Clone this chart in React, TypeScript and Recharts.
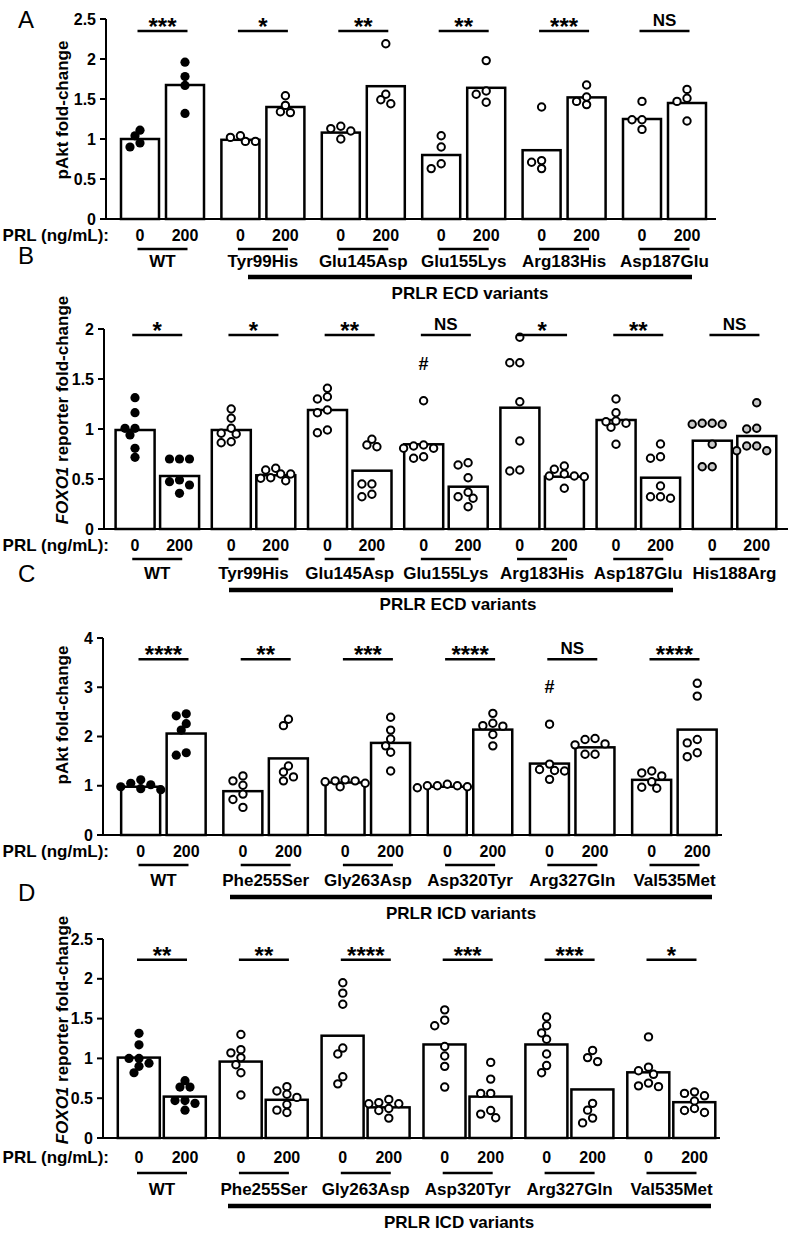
import React from 'react';
import { ComposedChart, Bar, Scatter, XAxis, YAxis } from 'recharts';

const FONT = '"Liberation Sans", Arial, Helvetica, sans-serif';

// ---------- Panel A : pAkt, PRLR ECD variants ----------
const groupsA = ['WT', 'Tyr99His', 'Glu145Asp', 'Glu155Lys', 'Arg183His', 'Asp187Glu'];
const barsA0 = [1.0, 0.99, 1.08, 0.8, 0.86, 1.25];
const barsA200 = [1.675, 1.4, 1.66, 1.64, 1.52, 1.45];
const dotsA0 = [
  [1.04, 1.11, 0.95, 0.9],
  [1.02, 0.97, 0.97, 1.04],
  [1.13, 1.0, 1.1, 1.16],
  [1.04, 0.9, 0.63, 0.69],
  [1.4, 0.73, 0.63, 0.71],
  [1.47, 1.24, 1.24, 1.12],
];
const dotsA200 = [
  [1.96, 1.78, 1.67, 1.32],
  [1.54, 1.42, 1.33, 1.34],
  [2.19, 1.56, 1.44, 1.49],
  [1.98, 1.6, 1.46, 1.56],
  [1.675, 1.525, 1.43, 1.47],
  [1.62, 1.51, 1.47, 1.225],
];
const sigA = ['***', '*', '**', '**', '***', 'NS'];
const yTicksA = [0, 0.5, 1, 1.5, 2, 2.5];

// ---------- Panel B : FOXO1 reporter, PRLR ECD variants ----------
const groupsB = ['WT', 'Tyr99His', 'Glu145Asp', 'Glu155Lys', 'Arg183His', 'Asp187Glu', 'His188Arg'];
const barsB0 = [0.99, 0.99, 1.19, 0.847, 1.213, 1.09, 0.883];
const barsB200 = [0.53, 0.537, 0.583, 0.423, 0.523, 0.513, 0.93];
const dotsB0 = [
  [1.313, 1.163, 1.007, 1.007, 0.94, 0.807, 0.717],
  [1.2, 1.107, 1.007, 0.95, 0.957, 0.863, 0.873],
  [1.407, 1.3, 1.323, 1.19, 1.163, 0.963, 0.99],
  [1.283, 0.807, 0.84, 0.83, 0.807, 0.707, 0.723],
  [1.917, 1.663, 1.663, 1.273, 0.88, 0.58, 0.59],
  [1.3, 1.163, 1.08, 1.057, 1.017, 1.073, 0.847],
  [1.057, 1.047, 1.047, 1.057, 0.847, 0.623, 0.623],
];
const dotsB200 = [
  [0.7, 0.7, 0.7, 0.473, 0.44, 0.49, 0.357],
  [0.607, 0.55, 0.513, 0.483, 0.507, 0.55, 0.59],
  [0.897, 0.823, 0.84, 0.45, 0.45, 0.323, 0.347],
  [0.663, 0.64, 0.513, 0.323, 0.367, 0.307, 0.223],
  [0.597, 0.63, 0.523, 0.53, 0.53, 0.407, 0.55],
  [0.85, 0.707, 0.723, 0.43, 0.323, 0.307, 0.323],
  [1.263, 1.0, 1.007, 0.83, 0.783, 0.783, 0.83],
];
const sigB = ['*', '*', '**', 'NS', '*', '**', 'NS'];
const hashB = [{ group: 3, value: 1.65 }];
const yTicksB = [0, 0.5, 1, 1.5, 2];

// ---------- Panel C : pAkt, PRLR ICD variants ----------
const groupsC = ['WT', 'Phe255Ser', 'Gly263Asp', 'Asp320Tyr', 'Arg327Gln', 'Val535Met'];
const barsC0 = [0.98, 0.89, 1.066, 0.98, 1.45, 1.12];
const barsC200 = [2.06, 1.555, 1.87, 2.14, 1.78, 2.14];
const dotsC0 = [
  [1.02, 1.05, 0.94, 0.92, 1.12, 0.98],
  [1.1, 1.01, 1.2, 0.83, 0.72, 0.56],
  [1.1, 0.98, 1.12, 1.1, 1.05, 1.08],
  [1.0, 0.96, 1.0, 1.03, 1.0, 0.98],
  [2.25, 1.44, 1.31, 1.3, 1.33, 1.13],
  [1.26, 1.3, 1.2, 1.08, 0.95, 0.97],
];
const dotsC200 = [
  [2.42, 2.46, 2.26, 2.13, 1.62, 1.67],
  [2.22, 2.35, 1.28, 1.4, 1.18, 1.1],
  [2.39, 2.13, 1.95, 1.81, 1.68, 1.3],
  [2.47, 2.22, 2.21, 2.27, 2.04, 1.81],
  [1.96, 1.94, 1.83, 1.85, 1.64, 1.64],
  [3.08, 2.82, 1.94, 1.87, 1.67, 1.59],
];
const sigC = ['****', '**', '***', '****', 'NS', '****'];
const hashC = [{ group: 4, value: 3.0 }];
const yTicksC = [0, 1, 2, 3, 4];

// ---------- Panel D : FOXO1 reporter, PRLR ICD variants ----------
const groupsD = ['WT', 'Phe255Ser', 'Gly263Asp', 'Asp320Tyr', 'Arg327Gln', 'Val535Met'];
const barsD0 = [1.01, 0.96, 1.285, 1.175, 1.175, 0.825];
const barsD200 = [0.52, 0.48, 0.385, 0.52, 0.61, 0.45];
const dotsD0 = [
  [1.315, 1.17, 0.94, 1.0, 1.0, 0.9, 0.82],
  [1.3, 1.11, 1.01, 1.07, 0.92, 0.82, 0.54],
  [1.95, 1.82, 1.68, 1.13, 1.055, 0.77, 0.68],
  [1.61, 1.48, 1.41, 1.15, 1.03, 0.9, 0.64],
  [1.52, 1.41, 1.32, 1.24, 1.055, 0.91, 0.82],
  [1.27, 0.845, 0.8, 0.89, 0.69, 0.645, 0.655],
];
const dotsD200 = [
  [0.64, 0.64, 0.72, 0.47, 0.435, 0.47, 0.35],
  [0.645, 0.55, 0.51, 0.59, 0.42, 0.35, 0.32],
  [0.485, 0.37, 0.43, 0.43, 0.445, 0.345, 0.25],
  [0.95, 0.74, 0.56, 0.56, 0.345, 0.255, 0.3],
  [1.1, 0.96, 1.01, 0.435, 0.35, 0.25, 0.19],
  [0.56, 0.53, 0.58, 0.465, 0.37, 0.32, 0.345],
];
const sigD = ['**', '**', '****', '***', '***', '*'];
const yTicksD = [0, 0.5, 1, 1.5, 2, 2.5];

// layout of each panel (pixels)
const panels = [
  {
    letter: 'A', top: 0, height: 310, plotTop: 19, plotBottom: 219, plotLeft: 106, plotRight: 716,
    center0: 162.5, period: 100.4, half: 22.5, barW: 38, yMax: 2.5, yTicks: yTicksA,
    groups: groupsA, bars0: barsA0, bars200: barsA200, dots0: dotsA0, dots200: dotsA200,
    sig: sigA, sigY: 2.35, hash: [], italic: false, letterY: 28, labelCY: 110,
    offs: [16, 30, 42, 58, 74], thick: [248, 692], capX: 470, caption: 'PRLR ECD variants',
  },
  {
    letter: 'B', top: 230, height: 400, plotTop: 99, plotBottom: 299, plotLeft: 104, plotRight: 788,
    center0: 157.25, period: 96.2, half: 22.25, barW: 39, yMax: 2, yTicks: yTicksB,
    groups: groupsB, bars0: barsB0, bars200: barsB200, dots0: dotsB0, dots200: dotsB200,
    sig: sigB, sigY: 1.94, hash: hashB, italic: true, letterY: 34, labelCY: 180,
    offs: [16, 30, 44, 61, 75], thick: [229, 673], capX: 458, caption: 'PRLR ECD variants',
  },
  {
    letter: 'C', top: 550, height: 380, plotTop: 88, plotBottom: 285, plotLeft: 103, plotRight: 722,
    center0: 163.5, period: 102.2, half: 22.75, barW: 39, yMax: 4, yTicks: yTicksC,
    groups: groupsC, bars0: barsC0, bars200: barsC200, dots0: dotsC0, dots200: dotsC200,
    sig: sigC, sigY: 3.57, hash: hashC, italic: false, letterY: 32, labelCY: 165,
    offs: [16, 30, 45, 62, 78], thick: [230, 712], capX: 461, caption: 'PRLR ICD variants',
  },
  {
    letter: 'D', top: 870, height: 364, plotTop: 69, plotBottom: 268, plotLeft: 103, plotRight: 720,
    center0: 162, period: 101.9, half: 23, barW: 42, yMax: 2.5, yTicks: yTicksD,
    groups: groupsD, bars0: barsD0, bars200: barsD200, dots0: dotsD0, dots200: dotsD200,
    sig: sigD, sigY: 2.24, hash: [], italic: true, letterY: 31, labelCY: 160,
    offs: [19, 35, 51, 68, 84], thick: [228, 711], capX: 459, caption: 'PRLR ICD variants',
  },
];

// simple beeswarm: spread points sideways (in px) when they overlap
const swarm = (vals: number[], pxPerUnit: number) => {
  const order = vals.map((_, i) => i).sort((a, b) => vals[b] - vals[a]);
  const placed: { x: number; y: number }[] = [];
  const dx = vals.map(() => 0);
  const step = 5;
  const minD = 7.5;
  order.forEach((i) => {
    const y = vals[i] * pxPerUnit;
    for (let k = 0; k < 30; k++) {
      const off = k === 0 ? 0 : (k % 2 ? -1 : 1) * Math.ceil(k / 2) * step;
      if (placed.every((p) => Math.hypot(p.x - off, p.y - y) >= minD)) {
        dx[i] = off;
        placed.push({ x: off, y });
        break;
      }
    }
  });
  return dx;
};

const dotShape = (p: any) => {
  const d = p.payload;
  if (d.filled) return <circle cx={p.cx + d.dx} cy={p.cy} r={4.6} fill="#000" />;
  return <circle cx={p.cx + d.dx} cy={p.cy} r={3.7} fill={d.fill} stroke="#000" strokeWidth={2} />;
};

const sigShape = (p: any) => {
  const ns = p.payload.label === 'NS';
  return (
    <g>
      <line x1={p.cx - 25} x2={p.cx + 25} y1={p.cy} y2={p.cy} stroke="#000" strokeWidth={2.6} />
      <text x={p.cx} y={ns ? p.cy - 5 : p.cy + 4} textAnchor="middle" fontFamily={FONT}
        fontWeight="bold" fontSize={ns ? 17 : 24} fill="#000">
        {p.payload.label}
      </text>
    </g>
  );
};

const hashShape = (p: any) => (
  <text x={p.cx} y={p.cy} textAnchor="middle" dominantBaseline="central" fontFamily={FONT}
    fontWeight="bold" fontSize={18} fill="#000">#</text>
);

const PanelChart = ({ cfg }: { cfg: any }) => {
  const pxPerUnit = (cfg.plotBottom - cfg.plotTop) / cfg.yMax;
  const off = cfg.half / cfg.period;
  const d0 = -(cfg.center0 - cfg.plotLeft) / cfg.period;
  const d1 = (cfg.plotRight - cfg.center0) / cfg.period;

  const bars = cfg.groups.flatMap((_: string, i: number) => [
    { x: i - off, v: cfg.bars0[i] },
    { x: i + off, v: cfg.bars200[i] },
  ]);

  const dots: any[] = [];
  cfg.groups.forEach((g: string, i: number) => {
    [cfg.dots0[i], cfg.dots200[i]].forEach((vals: number[], c: number) => {
      const dx = swarm(vals, pxPerUnit);
      const fill = g === 'His188Arg' ? '#c8c8c8' : '#fff';
      vals.forEach((v, k) => {
        dots.push({ x: i + (c ? off : -off), y: v, dx: dx[k], fill, filled: g === 'WT' });
      });
    });
  });

  const sig = cfg.sig.map((s: string, i: number) => ({ x: i, y: cfg.sigY, label: s }));
  const hash = cfg.hash.map((h: any) => ({ x: h.group - off, y: h.value }));

  const [oNum, oLine, oName, oThick, oCap] = cfg.offs;

  // bar drawn with the panel's own width, centred where Recharts puts the bar
  const barShape = (p: any) => {
    const cx = p.x + p.width / 2;
    return (
      <rect x={cx - cfg.barW / 2} y={p.y} width={cfg.barW} height={p.height}
        fill="#fff" stroke="#000" strokeWidth={2.5} />
    );
  };

  const renderTick = (p: any) => {
    const i = Math.round(p.payload.value);
    const x = p.x;
    const y = p.y;
    return (
      <g fontFamily={FONT} fontWeight="bold" fill="#000">
        {i === 0 && (
          <text x={109} y={y + oNum} textAnchor="end" dominantBaseline="central" fontSize={17}>
            PRL (ng/mL):
          </text>
        )}
        <text x={x - cfg.half} y={y + oNum} textAnchor="middle" dominantBaseline="central" fontSize={16}>0</text>
        <text x={x + cfg.half} y={y + oNum} textAnchor="middle" dominantBaseline="central" fontSize={16}>200</text>
        <line x1={x - 25} x2={x + 25} y1={y + oLine} y2={y + oLine} stroke="#000" strokeWidth={2.6} />
        <text x={x} y={y + oName} textAnchor="middle" dominantBaseline="central" fontSize={17}>
          {cfg.groups[i]}
        </text>
        {i === 1 && (
          <g>
            <line x1={cfg.thick[0]} x2={cfg.thick[1]} y1={y + oThick} y2={y + oThick} stroke="#000" strokeWidth={4.5} />
            <text x={cfg.capX} y={y + oCap} textAnchor="middle" dominantBaseline="central" fontSize={17}>
              {cfg.caption}
            </text>
          </g>
        )}
      </g>
    );
  };

  const renderTitle = () => (
    <g fontFamily={FONT} fill="#000">
      <text x={18} y={cfg.letterY} fontSize={24}>{cfg.letter}</text>
      <text transform={`translate(68, ${cfg.labelCY}) rotate(-90)`} textAnchor="middle" fontSize={17} fontWeight="bold">
        {cfg.italic ? (
          <>
            <tspan fontStyle="italic">FOXO1</tspan>
            <tspan> reporter fold-change</tspan>
          </>
        ) : (
          'pAkt fold-change'
        )}
      </text>
    </g>
  );

  return (
    <ComposedChart
      width={800}
      height={cfg.height}
      data={bars}
      margin={{ top: cfg.plotTop, right: 800 - cfg.plotRight, bottom: 0, left: 0 }}
    >
      <XAxis
        type="number"
        dataKey="x"
        domain={[d0, d1]}
        allowDataOverflow
        ticks={cfg.groups.map((_: string, i: number) => i)}
        interval={0}
        height={cfg.height - cfg.plotBottom}
        tickSize={0}
        tickMargin={0}
        tickLine={false}
        axisLine={{ stroke: '#000', strokeWidth: 2 }}
        tick={renderTick}
      />
      <YAxis
        type="number"
        domain={[0, cfg.yMax]}
        ticks={cfg.yTicks}
        interval={0}
        width={cfg.plotLeft}
        tickSize={6}
        tickMargin={4}
        axisLine={{ stroke: '#000', strokeWidth: 2 }}
        tickLine={{ stroke: '#000', strokeWidth: 2 }}
        tick={{ fill: '#000', fontSize: 16, fontWeight: 'bold', fontFamily: FONT }}
        label={renderTitle}
      />
      <Bar dataKey="v" shape={barShape} isAnimationActive={false} />
      <Scatter data={dots} dataKey="y" shape={dotShape} isAnimationActive={false} />
      <Scatter data={sig} dataKey="y" shape={sigShape} isAnimationActive={false} />
      {hash.length > 0 && <Scatter data={hash} dataKey="y" shape={hashShape} isAnimationActive={false} />}
    </ComposedChart>
  );
};

export default function App() {
  return (
    <div style={{ position: 'absolute', left: 0, top: 0, width: 800, height: 1234, background: '#fff' }}>
      {panels.map((cfg) => (
        <div key={cfg.letter} style={{ position: 'absolute', left: 0, top: cfg.top }}>
          <PanelChart cfg={cfg} />
        </div>
      ))}
    </div>
  );
}
